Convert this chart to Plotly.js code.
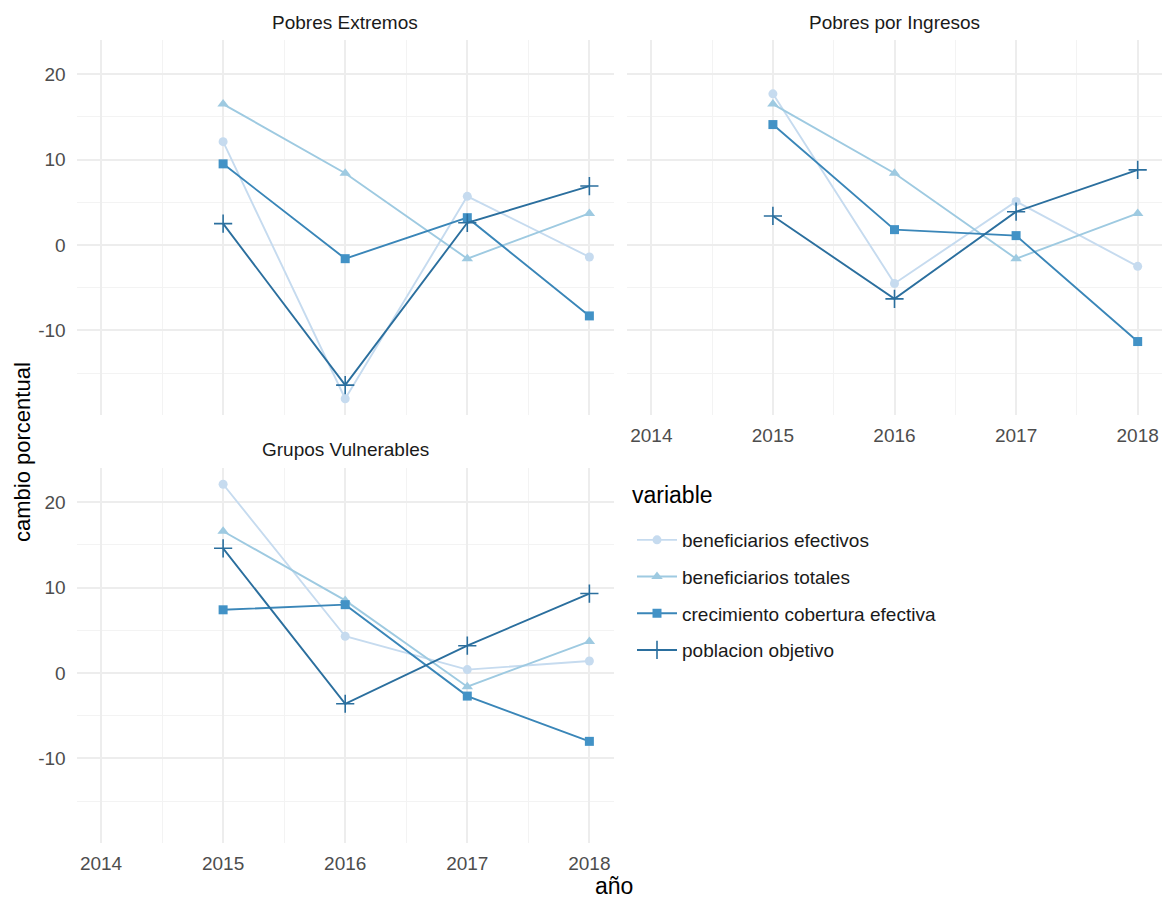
<!DOCTYPE html>
<html>
<head>
<meta charset="utf-8">
<script src="https://cdn.plot.ly/plotly-3.0.1.min.js"></script>
<style>html,body{margin:0;padding:0;background:#fff;}#chart{width:1164px;height:902px;}</style>
</head>
<body>
<div id="chart"></div>
<script>
const years = [2015, 2016, 2017, 2018];
const panels = ["Pobres Extremos", "Pobres por Ingresos", "Grupos Vulnerables"];
const variables = ["beneficiarios efectivos", "beneficiarios totales", "crecimiento cobertura efectiva", "poblacion objetivo"];

// Pobres Extremos
const pe_efectivos = [12.1, -18.0, 5.7, -1.4];
const pe_totales = [16.5, 8.4, -1.6, 3.7];
const pe_cobertura = [9.5, -1.6, 3.2, -8.3];
const pe_poblacion = [2.5, -16.4, 2.6, 6.9];

// Pobres por Ingresos
const pi_efectivos = [17.7, -4.5, 5.1, -2.5];
const pi_totales = [16.5, 8.4, -1.6, 3.7];
const pi_cobertura = [14.1, 1.8, 1.1, -11.3];
const pi_poblacion = [3.4, -6.3, 3.9, 8.8];

// Grupos Vulnerables
const gv_efectivos = [22.1, 4.3, 0.4, 1.4];
const gv_totales = [16.6, 8.5, -1.6, 3.7];
const gv_cobertura = [7.4, 8.0, -2.7, -8.0];
const gv_poblacion = [14.6, -3.6, 3.2, 9.3];

const xTicks = [2014, 2015, 2016, 2017, 2018];
const yTicks = [-10, 0, 10, 20];

const panelData = [
  [pe_efectivos, pe_totales, pe_cobertura, pe_poblacion],
  [pi_efectivos, pi_totales, pi_cobertura, pi_poblacion],
  [gv_efectivos, gv_totales, gv_cobertura, gv_poblacion]
];

const colors = ["#c6dbef", "#9ecae1", "#4292c6", "#2b6f9e"];
const lineColors = ["#c6dbef", "#9ecae1", "#3a86b8", "#2b6f9e"];
const symbols = ["circle", "triangle-up", "square", "cross-thin"];
const sizes = [9, 10, 9, 13];

const traces = [];
panelData.forEach((series, p) => {
  const ax = p === 0 ? "" : String(p + 1);
  series.forEach((vals, i) => {
    traces.push({
      type: "scatter",
      mode: "lines+markers",
      x: years,
      y: vals,
      name: variables[i],
      legendgroup: variables[i],
      showlegend: p === 0,
      xaxis: "x" + ax,
      yaxis: "y" + ax,
      line: {color: lineColors[i], width: 1.9},
      marker: {
        symbol: symbols[i], size: sizes[i], color: colors[i],
        line: {color: colors[i], width: i === 3 ? 1.6 : 0}
      },
      cliponaxis: false
    });
  });
});

const W = 1164, H = 902;
const px = v => v / W;
const py = v => 1 - v / H;

const FONT = "Liberation Sans, Arial, sans-serif";
const gridMajor = "#ededed", gridMinor = "#f3f3f3";
function xa(domain, showLabels) {
  return {
    domain: domain, range: [2013.8, 2018.2], tickmode: "array", tickvals: xTicks,
    ticktext: xTicks.map(String), showticklabels: showLabels,
    showgrid: true, gridcolor: gridMajor, gridwidth: 2, zeroline: false, showline: false,
    ticks: "", ticklabelstandoff: 7,
    tickfont: {family: FONT, size: 19, color: "#4d4d4d"},
    minor: {tickmode: "array", tickvals: [2014.5, 2015.5, 2016.5, 2017.5], showgrid: true, gridcolor: gridMinor, gridwidth: 1},
    fixedrange: true
  };
}
function ya(domain, showLabels, anchor) {
  return {
    domain: domain, range: [-19.9, 24], tickmode: "array", tickvals: yTicks,
    ticktext: yTicks.map(String), showticklabels: showLabels, anchor: anchor,
    showgrid: true, gridcolor: gridMajor, gridwidth: 2, zeroline: false, showline: false,
    ticks: "", ticklabelstandoff: 10,
    tickfont: {family: FONT, size: 19, color: "#4d4d4d"},
    minor: {tickmode: "array", tickvals: [-15, -5, 5, 15], showgrid: true, gridcolor: gridMinor, gridwidth: 1},
    fixedrange: true
  };
}

const xd1 = [px(76.6), px(613.8)], xd2 = [px(627), px(1162)];
const yd1 = [py(415), py(40)], yd3 = [py(843), py(468)];

const stripFont = {family: FONT, size: 19, color: "#1a1a1a"};
const layout = {
  width: W, height: H,
  margin: {l: 0, r: 0, t: 0, b: 0},
  paper_bgcolor: "#ffffff", plot_bgcolor: "#ffffff",
  font: {family: FONT},
  xaxis: Object.assign(xa(xd1, false), {anchor: "y"}),
  yaxis: ya(yd1, true, "x"),
  xaxis2: Object.assign(xa(xd2, true), {anchor: "y2"}),
  yaxis2: ya(yd1, false, "x2"),
  xaxis3: Object.assign(xa(xd1, true), {anchor: "y3"}),
  yaxis3: ya(yd3, true, "x3"),
  showlegend: true,
  legend: {
    x: px(632), y: py(521), xanchor: "left", yanchor: "top",
    font: {size: 19, color: "#1a1a1a"},
    traceorder: "grouped", tracegroupgap: 9, itemwidth: 40,
    bgcolor: "rgba(0,0,0,0)"
  },
  annotations: [
    {text: panels[0], x: (xd1[0] + xd1[1]) / 2, y: py(22), xref: "paper", yref: "paper", showarrow: false, font: stripFont, xanchor: "center", yanchor: "middle"},
    {text: panels[1], x: (xd2[0] + xd2[1]) / 2, y: py(22), xref: "paper", yref: "paper", showarrow: false, font: stripFont, xanchor: "center", yanchor: "middle"},
    {text: panels[2], x: (xd1[0] + xd1[1]) / 2, y: py(449), xref: "paper", yref: "paper", showarrow: false, font: stripFont, xanchor: "center", yanchor: "middle"},
    {text: "variable", x: px(630), y: py(495), xref: "paper", yref: "paper", showarrow: false, font: {family: FONT, size: 23, color: "#000000"}, xanchor: "left", yanchor: "middle"},
    {text: "cambio porcentual", x: px(22), y: py(452), xref: "paper", yref: "paper", showarrow: false, textangle: -90, font: {family: FONT, size: 22, color: "#000000"}, xanchor: "center", yanchor: "middle"},
    {text: "año", x: px(614), y: py(886), xref: "paper", yref: "paper", showarrow: false, font: {family: FONT, size: 23, color: "#000000"}, xanchor: "center", yanchor: "middle"}
  ]
};

Plotly.newPlot("chart", traces, layout, {displayModeBar: false, staticPlot: true});
</script>
</body>
</html>
